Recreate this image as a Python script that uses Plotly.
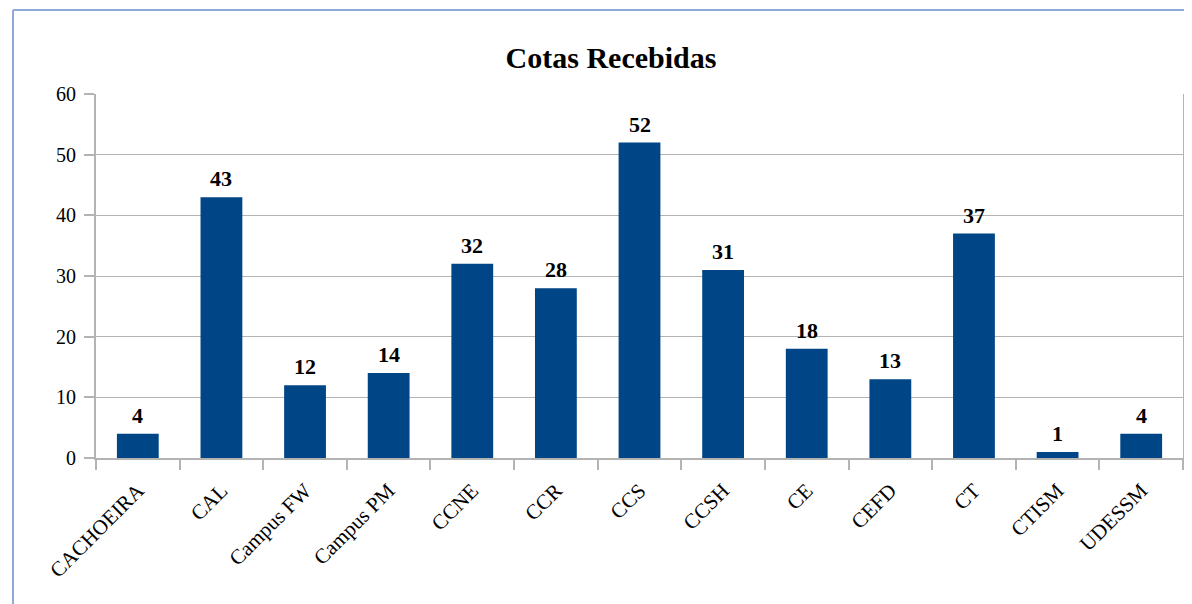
import plotly.graph_objects as go

categories = ["CACHOEIRA", "CAL", "Campus FW", "Campus PM", "CCNE", "CCR", "CCS",
              "CCSH", "CE", "CEFD", "CT", "CTISM", "UDESSM"]
values = [4, 43, 12, 14, 32, 28, 52, 31, 18, 13, 37, 1, 4]
y_ticks = [0, 10, 20, 30, 40, 50, 60]

W, H = 1192, 604
OFF = 8  # page body margin
L, R, T, B = 96 - OFF, 9 + OFF, 94 - OFF, 146 + OFF
pw, ph = W - L - R, H - T - B

def px(x):
    return (x - OFF - L) / pw

def py(y):
    return 1 + (T - (y - OFF)) / ph

serif = "Liberation Serif"

fig = go.Figure()
fig.add_trace(go.Bar(
    x=categories, y=values,
    marker=dict(color="#004586", line=dict(width=0)),
    text=values, textposition="none",
    hoverinfo="x+y",
))

for c, v in zip(categories, values):
    fig.add_annotation(x=c, y=v, text=f"<b>{v}</b>", showarrow=False,
                       yanchor="bottom", yshift=4,
                       font=dict(family=serif, size=22, color="#000000"))

fig.update_layout(
    width=W, height=H,
    margin=dict(l=L, r=R, t=T, b=B),
    paper_bgcolor="white", plot_bgcolor="white",
    bargap=0.5,
    showlegend=False,
    font=dict(family=serif, size=20, color="#000000"),
    title=dict(text="<b>Cotas Recebidas</b>", x=(611 - OFF) / W, xref="container", xanchor="center",
               y=1 - (57 - OFF) / H, yref="container", yanchor="middle",
               font=dict(family=serif, size=30, color="#000000")),
    xaxis=dict(
        type="category", tickson="boundaries",
        ticks="outside", ticklen=10, tickcolor="#b3b3b3", tickwidth=2,
        tickangle=-45, showgrid=False, ticklabelstandoff=10,
        showline=True, linecolor="#b3b3b3", linewidth=2,
        tickfont=dict(family=serif, size=21, color="#000000"),
    ),
    yaxis=dict(
        range=[0, 60], tickvals=y_ticks,
        ticks="outside", ticklen=10, tickcolor="#b3b3b3", tickwidth=2,
        showgrid=True, gridcolor="#b3b3b3", gridwidth=1, ticklabelstandoff=4,
        showline=True, linecolor="#b3b3b3", linewidth=2, mirror=True,
        zeroline=False,
        tickfont=dict(family=serif, size=20, color="#000000"),
    ),
    shapes=[
        dict(type="line", xref="paper", yref="paper", x0=px(13), x1=px(13),
             y0=py(H + 5), y1=py(10), line=dict(color="#8eaadb", width=2)),
        dict(type="line", xref="paper", yref="paper", x0=px(13), x1=px(W + 20),
             y0=py(10), y1=py(10), line=dict(color="#8eaadb", width=2)),
    ],
)

fig.write_html("out.html")
